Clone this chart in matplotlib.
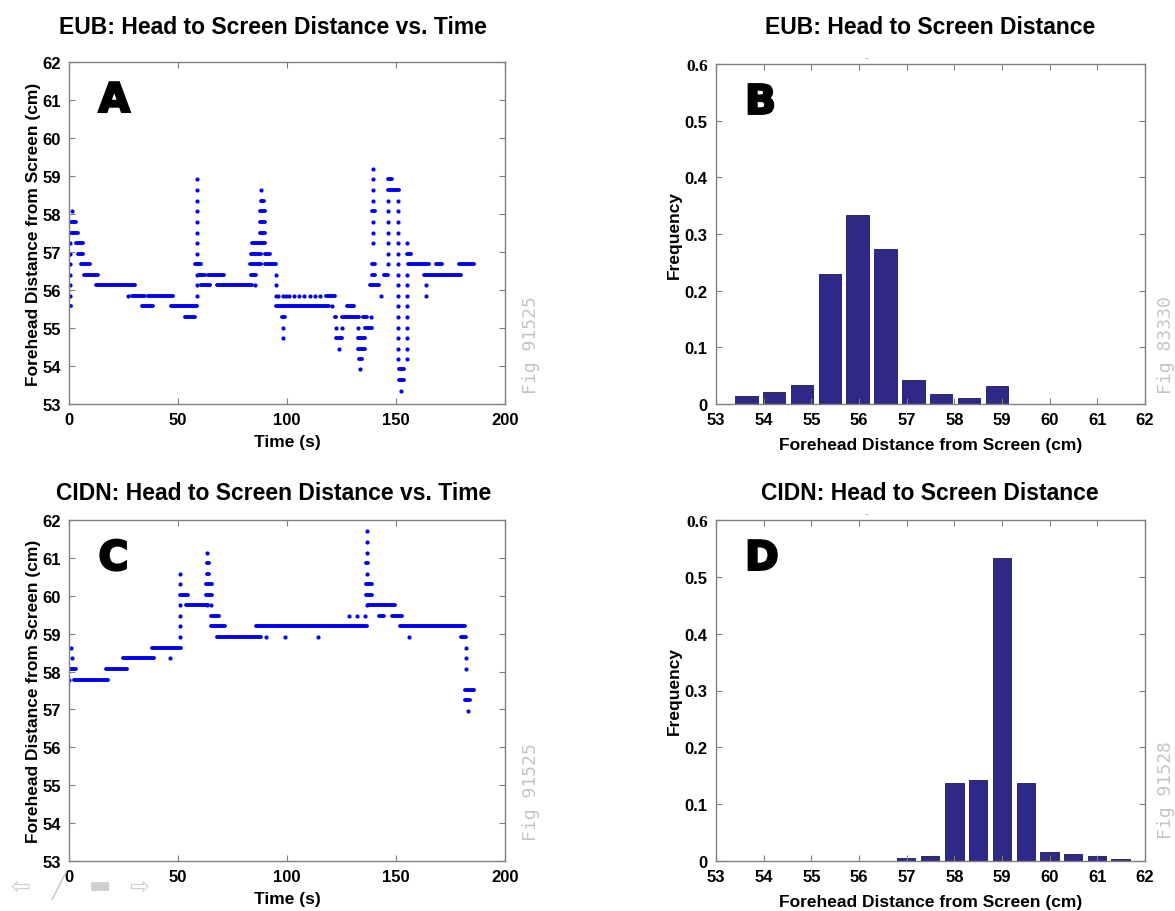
import matplotlib
matplotlib.use('Agg')
import matplotlib.pyplot as plt
from matplotlib import patheffects

plt.rcParams['font.family'] = ['Liberation Sans', 'DejaVu Sans']
plt.rcParams['font.weight'] = 'bold'

# ---- EUB time series (panel A) ----
# flat stretches: start time (s), end time (s), distance (cm)
eub_run_start = [0.0, 0.5, 1.1, 2.3, 3.3, 4.3, 5.6, 6.7, 12.4, 28.8, 36.3, 33.4, 46.8, 53.0,
                 57.9, 59.6, 63.7, 60.4, 68.1, 83.3, 83.0, 90.0, 83.3, 90.0, 84.0, 87.4, 87.4,
                 87.4, 87.9, 94.8, 118.0, 97.7, 121.8, 125.0, 127.5, 122.6, 134.9, 135.7, 132.4,
                 132.4, 133.2, 138.1, 138.8, 138.8, 138.8, 144.4, 146.3, 146.3, 151.5, 151.2,
                 155.3, 168.4, 178.7, 162.7, 155.0]
eub_run_end = [1.0, 2.0, 3.1, 4.3, 6.2, 6.5, 9.5, 13.3, 30.1, 35.0, 47.8, 38.6, 58.8, 57.9,
               60.4, 62.5, 71.0, 64.5, 84.1, 85.7, 88.0, 94.8, 88.0, 92.3, 90.0, 89.9, 89.9,
               89.9, 89.4, 119.3, 122.0, 98.9, 122.6, 133.2, 130.8, 125.0, 136.5, 139.0, 135.7,
               135.7, 134.5, 142.2, 140.5, 140.5, 140.5, 146.3, 148.0, 151.2, 153.7, 153.7,
               165.1, 170.9, 185.6, 179.9, 157.0]
eub_run_level = [55.57, 57.51, 57.79, 57.51, 57.24, 56.96, 56.68, 56.40, 56.12, 55.85, 55.85,
                 55.57, 55.57, 55.29, 56.68, 56.40, 56.40, 56.12, 56.12, 56.40, 56.68, 56.68,
                 56.96, 56.96, 57.24, 57.51, 57.79, 58.07, 58.35, 55.57, 55.85, 55.29, 55.29,
                 55.29, 55.57, 54.74, 55.29, 55.01, 54.74, 54.46, 54.18, 56.12, 56.40, 56.68,
                 58.07, 56.40, 58.91, 58.63, 53.91, 53.63, 56.68, 56.68, 56.68, 56.40, 56.96]
# isolated samples: time (s) and the distances recorded around it
eub_dot_t = [0.3, 1.6, 27.2, 58.8, 85.4, 88.2, 94.8, 96.0, 98.0, 99.5, 101.0, 103.0, 105.5,
             108.0, 110.5, 113.0, 115.0, 98.2, 120.5, 122.6, 123.7, 125.0, 132.4, 133.5, 138.6,
             139.4, 143.0, 146.3, 151.0, 152.2, 155.0, 163.8]
eub_dot_levels = [
    [55.85, 56.12, 56.40, 56.68, 56.96, 57.24],
    [58.07],
    [55.85],
    [55.85, 56.12, 56.40, 56.96, 57.24, 57.51, 57.79, 58.07, 58.35, 58.63, 58.91],
    [56.12],
    [58.63],
    [56.40, 56.12, 55.85],
    [55.85], [55.85], [55.85], [55.85], [55.85], [55.85], [55.85], [55.85], [55.85], [55.85],
    [55.01, 54.74],
    [55.57],
    [55.01],
    [54.46],
    [55.01],
    [55.01],
    [53.91],
    [55.29],
    [57.24, 57.51, 57.79, 58.35, 58.63, 58.91, 59.19],
    [55.85],
    [58.35, 58.07, 57.79, 57.51, 57.24, 56.96, 56.68],
    [58.35, 58.07, 57.79, 57.51, 57.24, 56.96, 56.68, 56.40, 56.12, 55.85, 55.57, 55.29,
     55.01, 54.74, 54.46, 54.18],
    [53.35],
    [57.24, 56.40, 56.12, 55.85, 55.57, 55.29, 55.01, 54.74, 54.46, 54.18],
    [56.12, 55.85],
]

# ---- CIDN time series (panel C) ----
cidn_run_start = [0.0, 2.3, 17.0, 24.9, 38.0, 51.1, 53.8, 63.0, 63.0, 63.2, 63.2, 65.0, 65.3,
                  68.1, 85.8, 136.4, 136.4, 136.3, 137.3, 142.2, 148.0, 152.0, 179.9, 181.5,
                  181.5]
cidn_run_end = [3.1, 17.8, 26.8, 39.1, 51.4, 54.7, 63.7, 65.5, 65.5, 64.2, 64.2, 68.6, 71.4,
                88.2, 136.5, 138.8, 138.8, 137.3, 149.6, 144.7, 152.9, 181.5, 182.3, 185.6,
                184.0]
cidn_run_level = [58.08, 57.79, 58.08, 58.36, 58.63, 60.02, 59.75, 60.02, 60.30, 60.57, 60.86,
                  59.47, 59.19, 58.91, 59.19, 60.02, 60.30, 60.86, 59.75, 59.47, 59.47, 59.19,
                  58.91, 57.52, 57.24]
cidn_dot_t = [0.0, 1.5, 1.1, 46.5, 51.1, 63.5, 65.3, 90.3, 99.3, 114.1, 128.3, 132.1, 136.0,
              136.6, 155.8, 182.3, 182.8]
cidn_dot_levels = [
    [57.79], [58.36], [58.63], [58.36],
    [58.91, 59.19, 59.47, 59.75, 60.30, 60.57],
    [61.14, 59.75], [59.75],
    [58.91], [58.91], [58.91],
    [59.47], [59.47], [59.47],
    [59.75, 60.57, 61.14, 61.42, 61.70],
    [58.91],
    [58.63, 58.36, 58.08],
    [56.97],
]

# ---- histograms (panels B and D) ----
eub_bin_centres = [53.64, 54.22, 54.81, 55.39, 55.97, 56.56, 57.14, 57.72, 58.31, 58.89]
eub_freq = [0.014, 0.021, 0.033, 0.230, 0.333, 0.273, 0.043, 0.018, 0.011, 0.032]
cidn_bin_centres = [56.99, 57.49, 58.00, 58.50, 59.00, 59.50, 60.00, 60.49, 60.99, 61.49]
cidn_freq = [0.006, 0.008, 0.138, 0.142, 0.534, 0.137, 0.016, 0.012, 0.008, 0.0035]

FRAME = '#808080'
DOT = '#0000f0'
BAR = '#2e2886'
W, H = 1175.0, 912.0


def px_axes( fig, left, top, right, bottom ):
    return fig.add_axes( [left / W, 1 - bottom / H, (right - left) / W, (bottom - top) / H] )


def px_text( fig, x, y, s, **kw ):
    return fig.text( x / W, 1 - y / H, s, **kw )


def style( ax ):
    for s in ax.spines.values( ):
        s.set_color( FRAME )
        s.set_linewidth( 1.0 )
    ax.tick_params( direction='in', length=4, width=0.8, color=FRAME, top=True, right=True,
                    labelsize=12, pad=6 )
    for lab in ax.get_xticklabels( ) + ax.get_yticklabels( ):
        lab.set_fontweight( 'bold' )


def letter( ax, s ):
    ax.text( 0.068, 0.945, s, transform=ax.transAxes, fontsize=29, family='DejaVu Sans',
             fontweight='bold', va='top', ha='left', color='black',
             path_effects=[patheffects.withStroke( linewidth=1.8, foreground='black',
                                                   joinstyle='miter' )] )


def watermark( fig, x, y, s ):
    px_text( fig, x, y, s, rotation=90, color='#c4c4c4', fontsize=13,
             family='DejaVu Sans Mono', fontweight='normal', ha='center', va='center' )


def time_panel( ax, run_start, run_end, run_level, dot_t, dot_levels, tag ):
    lines = ax.hlines( run_level, run_start, run_end, colors=DOT, linewidth=2.8 )
    lines.set_capstyle( 'round' )
    xs, ys = [], []
    for t, levels in zip( dot_t, dot_levels ):
        for v in levels:
            xs.append( t )
            ys.append( v )
    ax.scatter( xs, ys, s=9, color=DOT, linewidths=0 )
    ax.set_xlim( 0, 200 )
    ax.set_ylim( 53, 62 )
    ax.set_xticks( [0, 50, 100, 150, 200] )
    ax.set_yticks( range( 53, 63 ) )
    ax.set_xlabel( 'Time (s)', fontsize=12.5, fontweight='bold', labelpad=5 )
    ax.set_ylabel( 'Forehead Distance from Screen (cm)', fontsize=12.5, fontweight='bold',
                   labelpad=1 )
    style( ax )
    letter( ax, tag )


def hist_panel( ax, centres, freq, width, tag ):
    ax.bar( centres, freq, width=width, color=BAR, edgecolor='#1c1850', linewidth=0.6 )
    ax.set_xlim( 53, 62 )
    ax.set_ylim( 0, 0.6 )
    ax.set_xticks( range( 53, 63 ) )
    ax.set_yticks( [0, 0.1, 0.2, 0.3, 0.4, 0.5, 0.6] )
    ax.set_yticklabels( ['0', '0.1', '0.2', '0.3', '0.4', '0.5', '0.6'] )
    ax.set_xlabel( 'Forehead Distance from Screen (cm)', fontsize=12.5, fontweight='bold',
                   labelpad=7 )
    ax.set_ylabel( 'Frequency', fontsize=12.5, fontweight='bold', labelpad=2 )
    style( ax )
    top_lab = ax.get_yticklabels( )[-1]
    top_lab.set_fontfamily( 'Liberation Serif' )
    top_lab.set_fontsize( 12.5 )
    # small stray mark above the frame, as in the original figure
    ax.text( 56.15, 0.603, '-', fontsize=8, color='#909090', ha='center', va='bottom',
             fontweight='normal' )
    letter( ax, tag )


fig = plt.figure( figsize=(W / 100, H / 100), dpi=100 )

ax_a = px_axes( fig, 69, 63, 505, 405 )
time_panel( ax_a, eub_run_start, eub_run_end, eub_run_level, eub_dot_t, eub_dot_levels, 'A' )
ax_b = px_axes( fig, 716, 65, 1145, 405 )
hist_panel( ax_b, eub_bin_centres, eub_freq, 0.47, 'B' )
ax_c = px_axes( fig, 69, 521, 505, 862 )
time_panel( ax_c, cidn_run_start, cidn_run_end, cidn_run_level, cidn_dot_t, cidn_dot_levels,
            'C' )
ax_d = px_axes( fig, 716, 521, 1145, 862 )
hist_panel( ax_d, cidn_bin_centres, cidn_freq, 0.39, 'D' )

title_kw = dict( fontsize=16.5, fontweight='bold', ha='center', va='center' )
px_text( fig, 273, 28, 'EUB: Head to Screen Distance vs. Time', **title_kw )
px_text( fig, 930, 28, 'EUB: Head to Screen Distance', **title_kw )
px_text( fig, 274, 493, 'CIDN: Head to Screen Distance vs. Time', **title_kw )
px_text( fig, 930, 493, 'CIDN: Head to Screen Distance', **title_kw )

watermark( fig, 531, 345, 'Fig 91525' )
watermark( fig, 531, 792, 'Fig 91525' )
watermark( fig, 1166, 345, 'Fig 83330' )
watermark( fig, 1166, 790, 'Fig 91528' )

# faded figure-toolbar arrows in the lower left corner
nav_kw = dict( color='#cfcfcf', fontsize=17, family='DejaVu Sans', fontweight='normal',
               ha='center', va='center' )
px_text( fig, 20, 887, '\u21e6', **nav_kw )
px_text( fig, 58, 886, '\u2571', **nav_kw )
px_text( fig, 100, 886, '\u25ac', **nav_kw )
px_text( fig, 139, 887, '\u21e8', **nav_kw )

fig.savefig( 'out.png', dpi=100 )
